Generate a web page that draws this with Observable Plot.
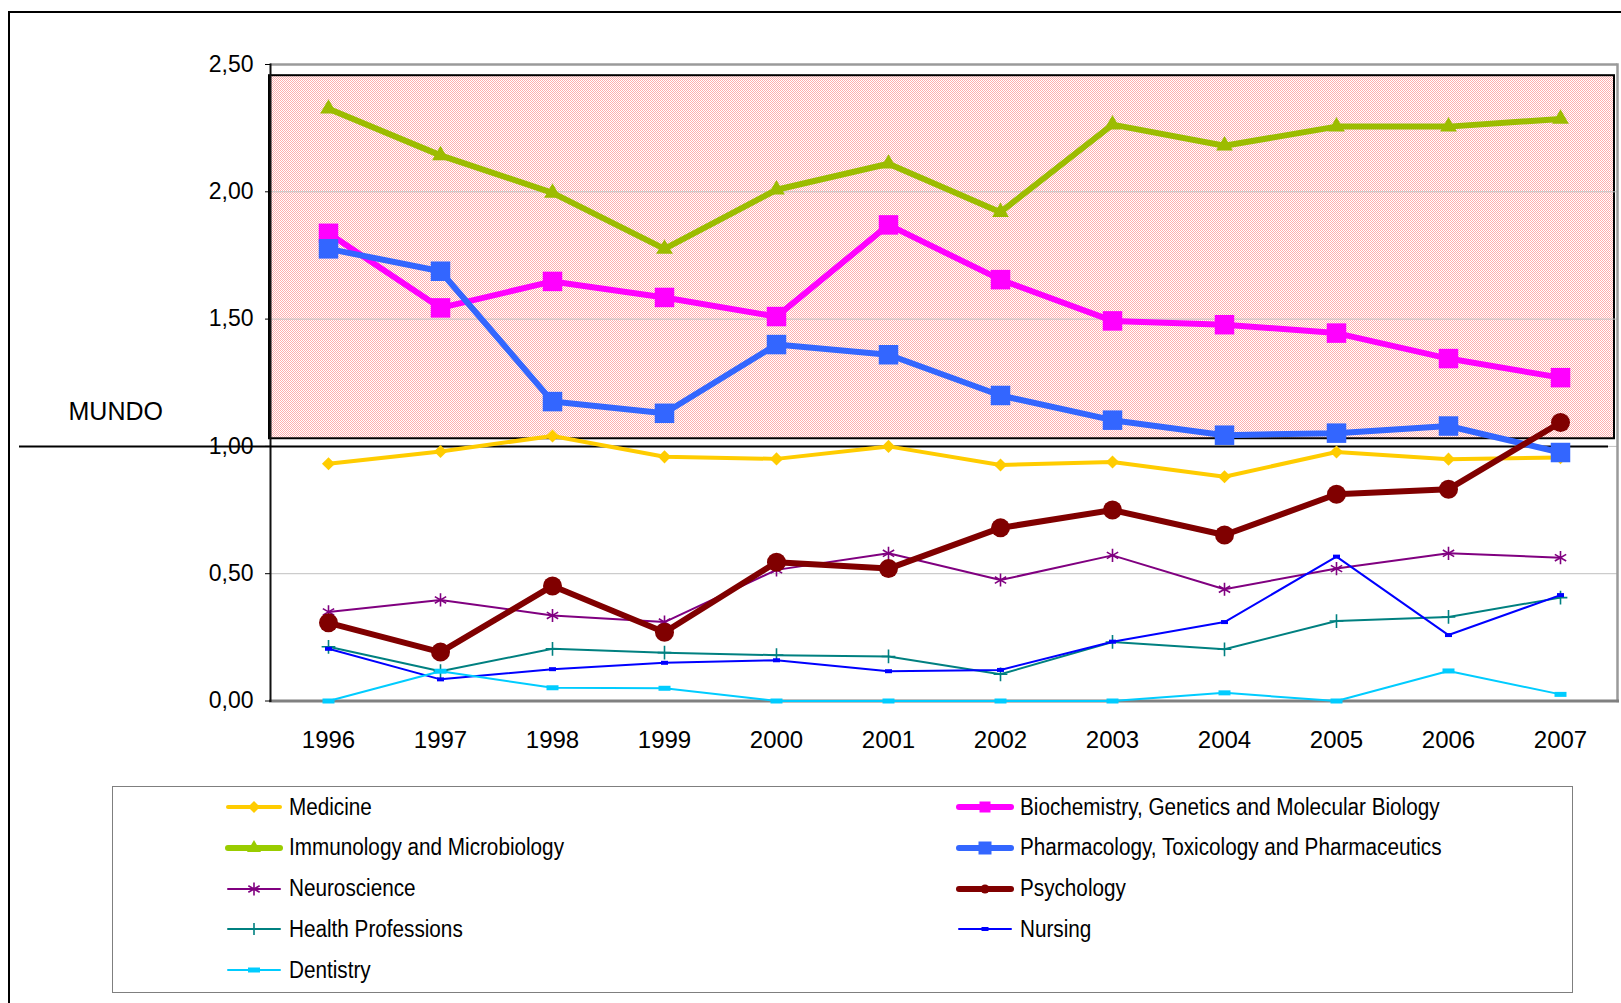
<!DOCTYPE html>
<html><head><meta charset="utf-8">
<script src="https://cdn.jsdelivr.net/npm/d3@7"></script>
<script src="https://cdn.jsdelivr.net/npm/@observablehq/plot@0.6"></script>
<style>
body{margin:0;background:#fff;font-family:"Liberation Sans",Arial,sans-serif;}
#wrap{position:relative;width:1621px;height:1003px;overflow:hidden;background:#fff;}
#frame{position:absolute;left:8px;top:11px;width:2000px;height:2000px;border-left:2px solid #000;border-top:2px solid #000;}
#chart{position:absolute;left:0;top:0;}
#legend{position:absolute;left:112px;top:786px;width:1459px;height:205px;border:1.5px solid #7f7f7f;}
.item{position:absolute;height:30px;display:flex;align-items:center;font-size:23px;color:#000;white-space:nowrap;}
.item span{margin-left:6px;display:inline-block;transform:scaleX(0.9);transform-origin:left center;}
</style></head><body>
<div id="wrap"><div id="frame"></div><div id="chart"></div><div id="legend"></div></div>
<script>
// ---- data ----
const years = [1996, 1997, 1998, 1999, 2000, 2001, 2002, 2003, 2004, 2005, 2006, 2007];
const medicine = [0.932, 0.980, 1.041, 0.959, 0.951, 1.000, 0.927, 0.939, 0.881, 0.978, 0.950, 0.956];
const biochemistry = [1.837, 1.544, 1.648, 1.585, 1.510, 1.870, 1.655, 1.493, 1.478, 1.445, 1.345, 1.270];
const immunology = [2.326, 2.143, 1.996, 1.776, 2.008, 2.110, 1.920, 2.264, 2.181, 2.256, 2.256, 2.286];
const pharmacology = [1.776, 1.688, 1.176, 1.130, 1.400, 1.360, 1.200, 1.103, 1.044, 1.052, 1.080, 0.976];
const neuroscience = [0.350, 0.397, 0.336, 0.310, 0.515, 0.580, 0.475, 0.572, 0.439, 0.520, 0.580, 0.563];
const psychology = [0.307, 0.192, 0.452, 0.270, 0.545, 0.520, 0.680, 0.750, 0.652, 0.812, 0.832, 1.094];
const healthProfessions = [0.213, 0.117, 0.205, 0.190, 0.180, 0.175, 0.105, 0.232, 0.203, 0.314, 0.330, 0.406];
const nursing = [0.205, 0.085, 0.125, 0.150, 0.160, 0.117, 0.122, 0.233, 0.310, 0.567, 0.259, 0.416];
const dentistry = [0.000, 0.117, 0.052, 0.050, 0.000, 0.000, 0.000, 0.000, 0.032, 0.000, 0.118, 0.026];
const seriesNames = ["Medicine", "Biochemistry, Genetics and Molecular Biology", "Immunology and Microbiology",
  "Pharmacology, Toxicology and Pharmaceutics", "Neuroscience", "Psychology", "Health Professions", "Nursing", "Dentistry"];
const seriesValues = [medicine, biochemistry, immunology, pharmacology, neuroscience, psychology, healthProfessions, nursing, dentistry];
const yTicks = [0, 0.5, 1, 1.5, 2, 2.5];
const gridValues = [0.5, 1, 1.5, 2];
const worldLevel = [1];
const worldLabel = ["MUNDO"];
const highlightBand = [[1.03, 2.456]];

// ---- styles ----
const rectSym = (w, h) => ({draw(ctx) { ctx.rect(-w / 2, -h / 2, w, h); }});
const styles = [
  {color: "#FFCC00", legendColor: "#FFCC00", width: 4, symbol: "diamond2", r: 5.9, lw: 4},
  {color: "#FF00FF", legendColor: "#FF00FF", width: 6, symbol: "square", r: 11, lw: 6},
  {color: "#9CBC00", legendColor: "#99CC00", width: 6, symbol: "triangle", r: 6.2, lw: 6},
  {color: "#3366FF", legendColor: "#3366FF", width: 6, symbol: "square", r: 11, lw: 6},
  {color: "#800080", legendColor: "#800080", width: 2, symbol: "asterisk", r: 6.2, strokeSym: true, lw: 2},
  {color: "#800000", legendColor: "#800000", width: 6, symbol: "circle", r: 9.5, lw: 6},
  {color: "#008080", legendColor: "#008080", width: 2, symbol: "plus", r: 4.5, strokeSym: true, lw: 2},
  {color: "#0000FF", legendColor: "#0000FF", width: 2, symbol: rectSym(7, 4), r: 3, lw: 2},
  {color: "#00CCFF", legendColor: "#00CCFF", width: 2, symbol: rectSym(12, 5), r: 3, lw: 2}
];

const rows = seriesNames.flatMap((s, i) => years.map((yr, j) => ({series: s, year: yr, value: seriesValues[i][j]})));

const seriesMarks = seriesNames.flatMap((name, i) => {
  const st = styles[i];
  const data = rows.filter(d => d.series === name);
  return [
    Plot.line(data, {x: "year", y: "value", stroke: st.color, strokeWidth: st.width, strokeLinejoin: "round"}),
    Plot.dot(data, {x: "year", y: "value", symbol: st.symbol, r: st.r,
      fill: st.strokeSym ? "none" : st.color, stroke: st.strokeSym ? st.color : "none", strokeWidth: 1.6})
  ];
});

const chart = Plot.plot({
  width: 1621, height: 770,
  marginLeft: 270, marginRight: 4, marginTop: 64, marginBottom: 69.5,
  style: {fontFamily: "'Liberation Sans', Arial, sans-serif", background: "transparent", overflow: "visible", color: "#000"},
  x: {type: "point", domain: years, padding: 0.5, axis: null, label: null},
  y: {domain: [0, 2.5], axis: null, label: null},
  marks: [
    Plot.rect(highlightBand, {y1: d => d[0], y2: d => d[1], fill: "url(#pinkdots)", stroke: "#000", strokeWidth: 2, insetRight: 3, insetLeft: -1}),
    Plot.ruleY(gridValues, {stroke: "#c0c0c0", strokeWidth: 1}),
    Plot.ruleY([2.5], {stroke: "#9a9a9a", strokeWidth: 2.5}),
    Plot.frame({anchor: "right", stroke: "#9a9a9a", strokeWidth: 2.5}),
    Plot.frame({anchor: "bottom", stroke: "#808080", strokeWidth: 3}),
    Plot.frame({anchor: "left", stroke: "#111", strokeWidth: 2}),
    Plot.ruleY(worldLevel, {stroke: "#000", strokeWidth: 2, insetLeft: -251, insetRight: 9}),
    Plot.text(worldLabel, {text: d => d, y: () => worldLevel[0], frameAnchor: "left", textAnchor: "start", dx: -202, dy: -34, fontSize: 25, fill: "#000"}),
    Plot.axisY({ticks: yTicks, tickSize: 5, tickPadding: 12, fontSize: 23, label: null, tickFormat: d => d.toFixed(2).replace(".", ","), stroke: "#000"}),
    Plot.axisX({tickSize: 0, tickPadding: 30, fontSize: 24, label: null, tickFormat: d => String(d)}),
    ...seriesMarks
  ]
});

// pink dither pattern
const svgNS = "http://www.w3.org/2000/svg";
const defs = document.createElementNS(svgNS, "defs");
const pat = document.createElementNS(svgNS, "pattern");
pat.setAttribute("id", "pinkdots"); pat.setAttribute("width", "2"); pat.setAttribute("height", "2");
pat.setAttribute("patternUnits", "userSpaceOnUse");
[[0, 0, 2, 2, "#ffffff"], [0, 0, 1, 1, "#ffaeae"], [1, 1, 1, 1, "#ffaeae"]].forEach(([x, y, w, h, c]) => {
  const r = document.createElementNS(svgNS, "rect");
  r.setAttribute("x", x); r.setAttribute("y", y); r.setAttribute("width", w); r.setAttribute("height", h); r.setAttribute("fill", c);
  r.setAttribute("shape-rendering", "crispEdges");
  pat.appendChild(r);
});
defs.appendChild(pat);
chart.insertBefore(defs, chart.firstChild);
document.getElementById("chart").appendChild(chart);

// legend
const legend = document.getElementById("legend");
const colX = [112, 843];
seriesNames.forEach((name, i) => {
  const st = styles[i];
  const col = i % 2, row = Math.floor(i / 2);
  const item = document.createElement("div");
  item.className = "item";
  item.style.left = colX[col] + "px";
  item.style.top = (20 + row * 40.8 - 15) + "px";
  const sw = d3.create("svg").attr("width", 58).attr("height", 30);
  sw.append("line").attr("x1", 3).attr("x2", 55).attr("y1", 15).attr("y2", 15)
    .attr("stroke", st.legendColor).attr("stroke-width", st.lw).attr("stroke-linecap", "round");
  let sym;
  const legendSize = [6, 11, 7, 13, 6.5, 4.5, 6, 3, 3][i];
  if (st.symbol === "diamond2") sym = d3.symbol(d3.symbolDiamond2, Math.pow(legendSize / 0.62625, 2));
  else if (st.symbol === "square") sym = d3.symbol(d3.symbolSquare, legendSize * legendSize);
  else if (st.symbol === "triangle") sym = d3.symbol(d3.symbolTriangle, Math.pow(legendSize * 2, 2) * 0.433);
  else if (st.symbol === "circle") sym = d3.symbol(d3.symbolCircle, Math.PI * legendSize * legendSize);
  else if (st.symbol === "asterisk") sym = d3.symbol(d3.symbolAsterisk, Math.pow(legendSize / 0.59436, 2));
  else if (st.symbol === "plus") sym = d3.symbol(d3.symbolPlus, Math.pow(legendSize / 0.87559, 2) + 2);
  else sym = d3.symbol(st.symbol, 10);
  sw.append("path").attr("d", sym()).attr("transform", "translate(29,15)")
    .attr("fill", st.strokeSym ? "none" : st.legendColor).attr("stroke", st.strokeSym ? st.legendColor : "none").attr("stroke-width", 1.6);
  item.appendChild(sw.node());
  const sp = document.createElement("span");
  sp.textContent = name;
  item.appendChild(sp);
  legend.appendChild(item);
});
</script>
</body></html>
